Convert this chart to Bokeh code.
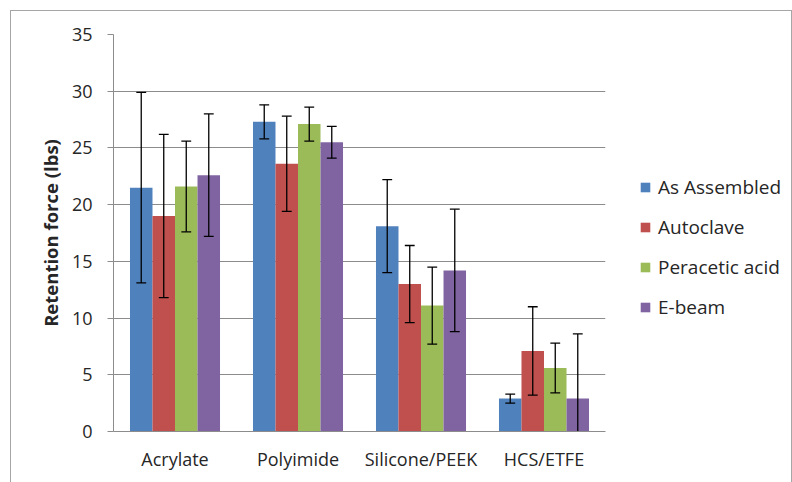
from bokeh.plotting import figure
from bokeh.layouts import row
from bokeh.models import ColumnDataSource, FactorRange, Legend, LegendItem, FixedTicker, Range1d
from bokeh.transform import dodge
from bokeh.embed import file_html
from bokeh.resources import INLINE

categories = ["Acrylate", "Polyimide", "Silicone/PEEK", "HCS/ETFE"]
series = ["As Assembled", "Autoclave", "Peracetic acid", "E-beam"]
as_assembled = [21.5, 27.3, 18.1, 2.9]
as_assembled_err = [8.4, 1.5, 4.1, 0.4]
autoclave = [19.0, 23.6, 13.0, 7.1]
autoclave_err = [7.2, 4.2, 3.4, 3.9]
peracetic_acid = [21.6, 27.1, 11.1, 5.6]
peracetic_acid_err = [4.0, 1.5, 3.4, 2.2]
e_beam = [22.6, 25.5, 14.2, 2.9]
e_beam_err = [5.4, 1.4, 5.4, 5.7]
y_ticks = [0, 5, 10, 15, 20, 25, 30, 35]

colors = ["#4F81BD", "#C0504D", "#9BBB59", "#8064A2"]
FONT = "Open Sans"
TEXT = "#262626"
GRID = "#8c8c8c"

p = figure(
    x_range=FactorRange(*categories, range_padding=0),
    y_range=Range1d(0, 35),
    width=595, height=471,
    output_backend="svg", toolbar_location=None,
    min_border_left=102, min_border_right=1, min_border_top=23, min_border_bottom=51,
)
p.outline_line_color = None
p.xgrid.grid_line_color = None
p.ygrid.grid_line_color = GRID
p.ygrid.ticker = FixedTicker(ticks=y_ticks)
p.yaxis.ticker = FixedTicker(ticks=y_ticks)

p.yaxis.axis_line_color = GRID
p.yaxis.major_tick_line_color = GRID
p.yaxis.major_tick_out = 6
p.yaxis.major_tick_in = 0
p.yaxis.minor_tick_line_color = None
p.yaxis.major_label_text_font = FONT
p.yaxis.major_label_text_font_size = "18px"
p.yaxis.major_label_text_color = TEXT
p.yaxis.major_label_standoff = 15
p.yaxis.axis_label = "Retention force (lbs)"
p.yaxis.axis_label_text_font = FONT
p.yaxis.axis_label_text_font_style = "bold"
p.yaxis.axis_label_text_font_size = "18.5px"
p.yaxis.axis_label_text_color = TEXT
p.yaxis.axis_label_standoff = 6

p.xaxis.axis_line_color = GRID
p.xaxis.major_tick_line_color = None
p.xaxis.major_tick_out = 0
p.xaxis.major_tick_in = 0
p.xaxis.minor_tick_line_color = None
p.xaxis.major_label_text_font = FONT
p.xaxis.major_label_text_font_size = "18px"
p.xaxis.major_label_text_color = TEXT
p.xaxis.major_label_standoff = 15

values = [as_assembled, autoclave, peracetic_acid, e_beam]
errors = [as_assembled_err, autoclave_err, peracetic_acid_err, e_beam_err]
bar_w = 0.183
offsets = [-1.5 * bar_w, -0.5 * bar_w, 0.5 * bar_w, 1.5 * bar_w]
cap = 0.04

# separate panel that carries only the legend
lf = figure(
    x_range=FactorRange(*categories), y_range=Range1d(0, 35),
    width=185, height=471, output_backend="svg", toolbar_location=None,
    x_axis_type=None, y_axis_type=None,
    min_border_left=0, min_border_right=0, min_border_top=0, min_border_bottom=0,
)
lf.outline_line_color = None
lf.xgrid.grid_line_color = None
lf.ygrid.grid_line_color = None

items = []
for name, vals, errs, col, off in zip(series, values, errors, colors, offsets):
    src = ColumnDataSource(dict(
        x=categories,
        top=vals,
        upper=[v + e for v, e in zip(vals, errs)],
        lower=[v - e for v, e in zip(vals, errs)],
    ))
    p.vbar(x=dodge("x", off, range=p.x_range), top="top", width=bar_w,
           source=src, fill_color=col, line_color=None)
    p.segment(x0=dodge("x", off, range=p.x_range), x1=dodge("x", off, range=p.x_range),
              y0="lower", y1="upper", source=src, line_color="black", line_width=1.3)
    for key in ("upper", "lower"):
        p.segment(x0=dodge("x", off - cap, range=p.x_range), x1=dodge("x", off + cap, range=p.x_range),
                  y0=key, y1=key, source=src, line_color="black", line_width=1.3)
    lr = lf.vbar(x=dodge("x", off, range=lf.x_range), top="top", width=bar_w,
                 source=src, fill_color=col, line_color=None, visible=False)
    items.append(LegendItem(label=name, renderers=[lr]))

legend = Legend(items=items, location=(33, 111), padding=0, margin=0, spacing=14,
                glyph_width=12, glyph_height=12, label_height=25, label_standoff=7,
                label_text_font=FONT, label_text_font_size="19px", label_text_color=TEXT,
                border_line_color=None, background_fill_alpha=0,
                inactive_fill_alpha=0)
lf.add_layout(legend, "center")

layout = row(p, lf, spacing=0, margin=(10, 0, 0, 10),
             styles={"border-top": "1px solid #a6a6a6", "border-left": "1px solid #a6a6a6",
                     "border-right": "1px solid #a6a6a6"})

open("out.html", "w").write(file_html(layout, INLINE))
